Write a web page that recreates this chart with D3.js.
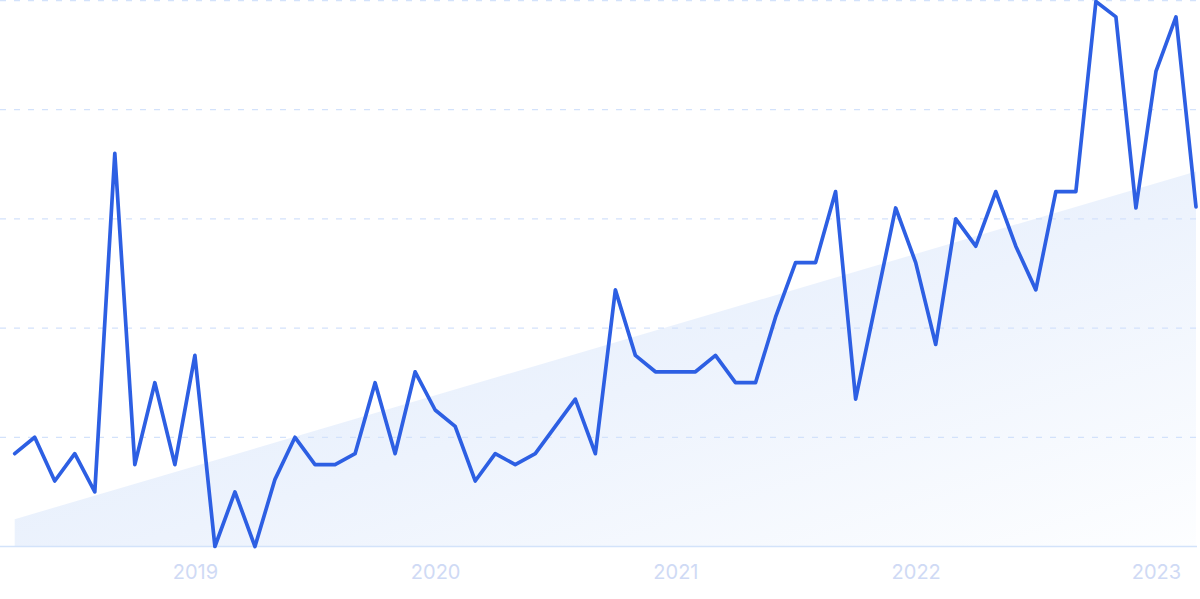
<!DOCTYPE html>
<html>
<head>
<meta charset="utf-8">
<script src="https://cdn.jsdelivr.net/npm/d3@7/dist/d3.min.js"></script>
<style>
  html, body { margin: 0; padding: 0; background: #ffffff; }
  svg { display: block; }
</style>
</head>
<body>
<svg id="chart" width="1200" height="599"></svg>
<script>
// Monthly categories Apr 2018 – Mar 2023
const months = [];
for (let y = 2018; y <= 2023; y++) {
  for (let m = 1; m <= 12; m++) {
    if ((y === 2018 && m < 4) || (y === 2023 && m > 3)) continue;
    months.push(y + "-" + String(m).padStart(2, "0"));
  }
}
const values = [
  17, 20, 12, 17, 10, 72, 15, 30, 15, 35,
  0, 10, 0, 12.3, 20, 15, 15, 17, 30, 17,
  32, 25, 22, 12, 17, 15, 17, 22, 27, 17,
  47, 35, 32, 32, 32, 35, 30, 30, 42, 52,
  52, 65, 27, 44.5, 62, 52, 37, 60, 55, 65,
  55, 47, 65, 65, 99.8, 97, 62, 87, 97, 62.2
];
const trendValues = [5.0, 68.7];           // trend area start / end
const yTicks = [0, 20, 40, 60, 80, 100];
const tickMonths = ["2019-01", "2020-01", "2021-01", "2022-01", "2023-01"];
const tickLabels = ["2019", "2020", "2021", "2022", "2023"];

const svg = d3.select("#chart");
const x = d3.scalePoint().domain(months).range([14.7, 1196]);
const y = d3.scaleLinear().domain([0, 100]).range([546.5, 0.5]);

// gradient for trend area
const defs = svg.append("defs");
const grad = defs.append("linearGradient")
  .attr("id", "trendGrad")
  .attr("x1", "0").attr("y1", "0").attr("x2", "1").attr("y2", "1");
grad.append("stop").attr("offset", "0%").attr("stop-color", "#dce9fb");
grad.append("stop").attr("offset", "55%").attr("stop-color", "#edf3fd");
grad.append("stop").attr("offset", "100%").attr("stop-color", "#fdfeff");

// trend area
const trendData = [
  { m: months[0], v: trendValues[0] },
  { m: months[months.length - 1], v: trendValues[1] }
];
svg.append("path")
  .datum(trendData)
  .attr("fill", "url(#trendGrad)")
  .attr("d", d3.area().x(d => x(d.m)).y0(y(0)).y1(d => y(d.v)));

// gridlines
svg.append("g").selectAll("line")
  .data(yTicks.filter(t => t > 0))
  .join("line")
  .attr("x1", 0).attr("x2", 1197)
  .attr("y1", d => y(d)).attr("y2", d => y(d))
  .attr("stroke", "#d3e2fb")
  .attr("stroke-width", 1.3)
  .attr("stroke-dasharray", "6,8");

// baseline
svg.append("line")
  .attr("x1", 0).attr("x2", 1197)
  .attr("y1", y(0)).attr("y2", y(0))
  .attr("stroke", "#d3e3fa")
  .attr("stroke-width", 1.6);

// x axis labels
const xAxis = d3.axisBottom(x)
  .tickValues(tickMonths)
  .tickFormat((d, i) => tickLabels[i])
  .tickSize(0)
  .tickPadding(0);
const gx = svg.append("g").attr("transform", "translate(0,564.5)").call(xAxis);
gx.select(".domain").remove();
gx.selectAll("text")
  .attr("dy", "0.71em")
  .attr("fill", "#cfdaf5")
  .style("font-family", "Inter, 'Noto Sans', sans-serif")
  .style("font-size", "20px");

// main line
svg.append("path")
  .datum(values)
  .attr("fill", "none")
  .attr("stroke", "#2d5fe3")
  .attr("stroke-width", 3.7)
  .attr("stroke-linejoin", "round")
  .attr("stroke-linecap", "round")
  .attr("d", d3.line().x((d, i) => x(months[i])).y(d => y(d)));
</script>
</body>
</html>
